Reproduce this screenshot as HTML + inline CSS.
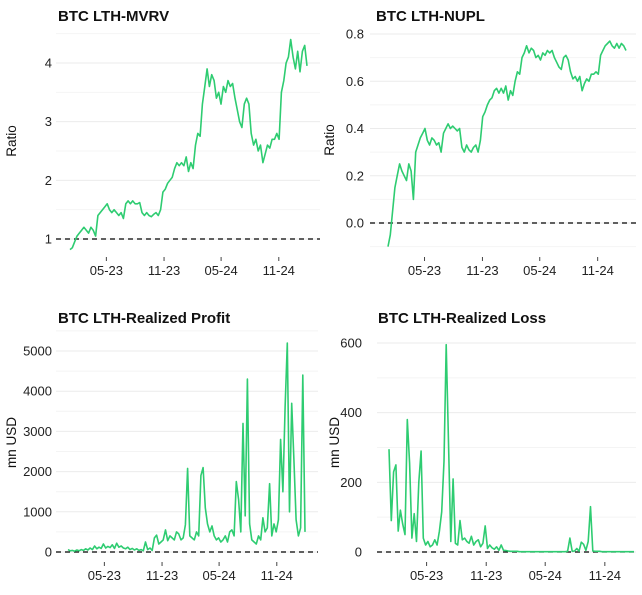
<!DOCTYPE html>
<html><head><meta charset="utf-8">
<style>
body{margin:0;background:#fff;}
svg{display:block;font-family:"Liberation Sans",Arial,sans-serif;}
.grid{stroke:#ebebeb;stroke-width:1}
.mgrid{stroke:#f4f4f4;stroke-width:1}
.tick{font-size:13px;fill:#222}
.title{font-size:15px;font-weight:bold;fill:#111}
.ylab{font-size:13.5px;fill:#111}
.line{fill:none;stroke:#2ecc71;stroke-width:1.6;stroke-linejoin:round}
.zero{stroke:#000;stroke-width:1.3;stroke-dasharray:5,4}
</style></head>
<body>
<svg id="chart" width="642" height="595"></svg>
<script>
const xTickLabels = ["05-23","11-23","05-24","11-24"];
const xTickDates = ["2023-05-01","2023-11-01","2024-05-01","2024-11-01"];
const startDate = "2023-01-05", endDate = "2025-01-30";
const mvrv = [0.82,0.85,0.95,1.05,1.1,1.15,1.2,1.15,1.1,1.2,1.15,1.05,1.4,1.45,1.5,1.55,1.6,1.5,1.45,1.5,1.45,1.4,1.45,1.35,1.6,1.65,1.6,1.65,1.6,1.6,1.62,1.45,1.4,1.45,1.4,1.38,1.42,1.45,1.4,1.5,1.8,1.85,1.95,2.0,2.05,2.2,2.3,2.25,2.3,2.25,2.4,2.15,2.3,2.2,2.6,2.8,2.75,3.3,3.6,3.9,3.6,3.8,3.7,3.4,3.5,3.3,3.6,3.5,3.7,3.6,3.65,3.4,3.2,3.0,2.9,3.3,3.4,3.3,2.8,2.6,2.7,2.5,2.6,2.3,2.45,2.6,2.55,2.7,2.7,2.8,2.7,3.5,3.7,4.0,4.1,4.4,4.1,3.9,4.2,3.85,4.2,4.3,3.95];
const nupl = [-0.1,-0.05,0.05,0.15,0.2,0.25,0.22,0.2,0.18,0.25,0.22,0.1,0.3,0.33,0.36,0.38,0.4,0.35,0.33,0.36,0.35,0.33,0.34,0.3,0.38,0.4,0.42,0.4,0.41,0.4,0.39,0.4,0.32,0.3,0.33,0.31,0.3,0.32,0.33,0.3,0.35,0.45,0.47,0.5,0.52,0.53,0.56,0.57,0.55,0.57,0.55,0.58,0.52,0.56,0.54,0.6,0.64,0.63,0.7,0.72,0.75,0.72,0.74,0.73,0.7,0.71,0.69,0.72,0.71,0.73,0.72,0.73,0.7,0.68,0.66,0.65,0.7,0.71,0.69,0.64,0.61,0.62,0.6,0.62,0.56,0.59,0.61,0.6,0.63,0.63,0.64,0.63,0.71,0.73,0.75,0.76,0.77,0.75,0.74,0.76,0.74,0.76,0.75,0.73];
const profit = [60,30,40,20,50,30,60,40,80,50,100,60,150,80,120,90,200,100,140,110,180,90,220,120,150,100,80,120,60,90,50,80,40,60,30,250,60,100,40,350,420,200,250,300,550,280,400,350,300,500,450,300,350,680,2080,400,350,300,500,400,1900,2100,1100,700,500,650,400,300,350,250,300,400,250,500,550,400,1750,1300,500,3200,900,4300,700,300,250,200,400,300,850,500,600,1700,400,700,500,800,2800,1500,3600,5200,1000,3700,2300,800,400,600,4400,500];
const loss = [295,90,230,250,60,120,80,50,380,255,40,110,30,200,290,40,20,30,15,20,35,20,60,115,260,595,315,30,210,25,20,90,35,40,30,25,45,20,30,35,15,25,75,10,20,12,8,15,5,20,5,4,3,2,2,2,2,1,1,1,1,1,1,1,1,1,1,1,1,1,1,1,1,1,1,1,1,1,2,40,2,3,10,2,28,22,5,30,130,3,2,2,2,1,1,1,1,1,1,1,1,1,1,1,1,1,1,1];
const mvrvTicks=[1,2,3,4], nuplTicks=[0,0.2,0.4,0.6,0.8], profitTicks=[0,1000,2000,3000,4000,5000], lossTicks=[0,200,400,600];

const svg=document.getElementById('chart');
const NS='http://www.w3.org/2000/svg';
function mk(tag,attrs,parent){const e=document.createElementNS(NS,tag);for(const k in attrs)e.setAttribute(k,attrs[k]);(parent||svg).appendChild(e);return e;}
const t0=Date.parse(startDate), t1=Date.parse(endDate);

function panel(o){
  const g=mk('g',{});
  
  
  const xs=t=>o.dx0+(t-t0)/(t1-t0)*(o.dx1-o.dx0);
  const ys=v=>o.y0px+(v-o.v0)/(o.v1-o.v0)*(o.y1px-o.y0px);
  const step=o.ticks[1]-o.ticks[0];
  for(let v=o.ticks[0]-step/2; ys(v)>=o.top-1; v+=step){
    if(ys(v)>o.bottom) continue;
    const l=mk('line',{x1:o.gx0,x2:o.gx1,y1:ys(v),y2:ys(v),class:'mgrid'},g);
    
    
  }
  o.ticks.forEach(v=>{
    const l=mk('line',{x1:o.gx0,x2:o.gx1,y1:ys(v),y2:ys(v),class:'grid'},g);
    
    
    const t=mk('text',{x:o.labx,y:ys(v)+4.5,'text-anchor':'end',class:'tick'},g);
    t.textContent=o.fmt(v);
    
    
  });
  xTickDates.forEach((d,i)=>{
    const x=xs(Date.parse(d));
    const l=mk('line',{x1:x,x2:x,y1:o.tickY,y2:o.tickY+4,stroke:'#444','stroke-width':1},g);
    
    
    const t=mk('text',{x:x,y:o.tickY+18,'text-anchor':'middle',class:'tick'},g);
    t.textContent=xTickLabels[i];
    
    
  });
  const z=mk('line',{x1:o.gx0,x2:o.gx1,y1:ys(o.ref),y2:ys(o.ref),class:'zero'},g);
  
  
  const n=o.data.length;
  const pts=o.data.map((v,i)=>xs(t0+i*(t1-t0)/(n-1)).toFixed(1)+','+ys(v).toFixed(1)).join(' ');
  const p=mk('polyline',{points:pts,class:'line'},g);
  
  
  const ti=mk('text',{x:o.titleX,y:o.titleY,class:'title'},g);
  ti.textContent=o.title;
  
  
  const yl=mk('text',{x:0,y:0,'text-anchor':'middle',class:'ylab',transform:`translate(${o.ylabX},${(o.top+o.bottom)/2}) rotate(-90)`},g);
  yl.textContent=o.ylab;
  
  
}
panel({name:'mvrv-panel',data:mvrv,ticks:mvrvTicks,fmt:v=>String(v),v0:1,v1:4,y0px:239,y1px:63,top:30,bottom:252,
  dx0:70,dx1:307,gx0:56,gx1:320,labx:52,tickY:257,ref:1,title:'BTC LTH-MVRV',titleX:58,titleY:21,ylab:'Ratio',ylabX:16});
panel({name:'nupl-panel',data:nupl,ticks:nuplTicks,fmt:v=>v.toFixed(1),v0:0,v1:0.8,y0px:223,y1px:34,top:30,bottom:250,
  dx0:388,dx1:626,gx0:370,gx1:636,labx:364,tickY:257,ref:0,title:'BTC LTH-NUPL',titleX:376,titleY:21,ylab:'Ratio',ylabX:334});
panel({name:'profit-panel',data:profit,ticks:profitTicks,fmt:v=>String(v),v0:0,v1:5000,y0px:552,y1px:351,top:330,bottom:555,
  dx0:68,dx1:305,gx0:56,gx1:318,labx:52,tickY:562,ref:0,title:'BTC LTH-Realized Profit',titleX:58,titleY:323,ylab:'mn USD',ylabX:16});
panel({name:'loss-panel',data:loss,ticks:lossTicks,fmt:v=>String(v),v0:0,v1:600,y0px:552,y1px:343,top:330,bottom:555,
  dx0:389,dx1:634,gx0:377,gx1:636,labx:362,tickY:562,ref:0,title:'BTC LTH-Realized Loss',titleX:378,titleY:323,ylab:'mn USD',ylabX:339});
</script>
</body></html>
